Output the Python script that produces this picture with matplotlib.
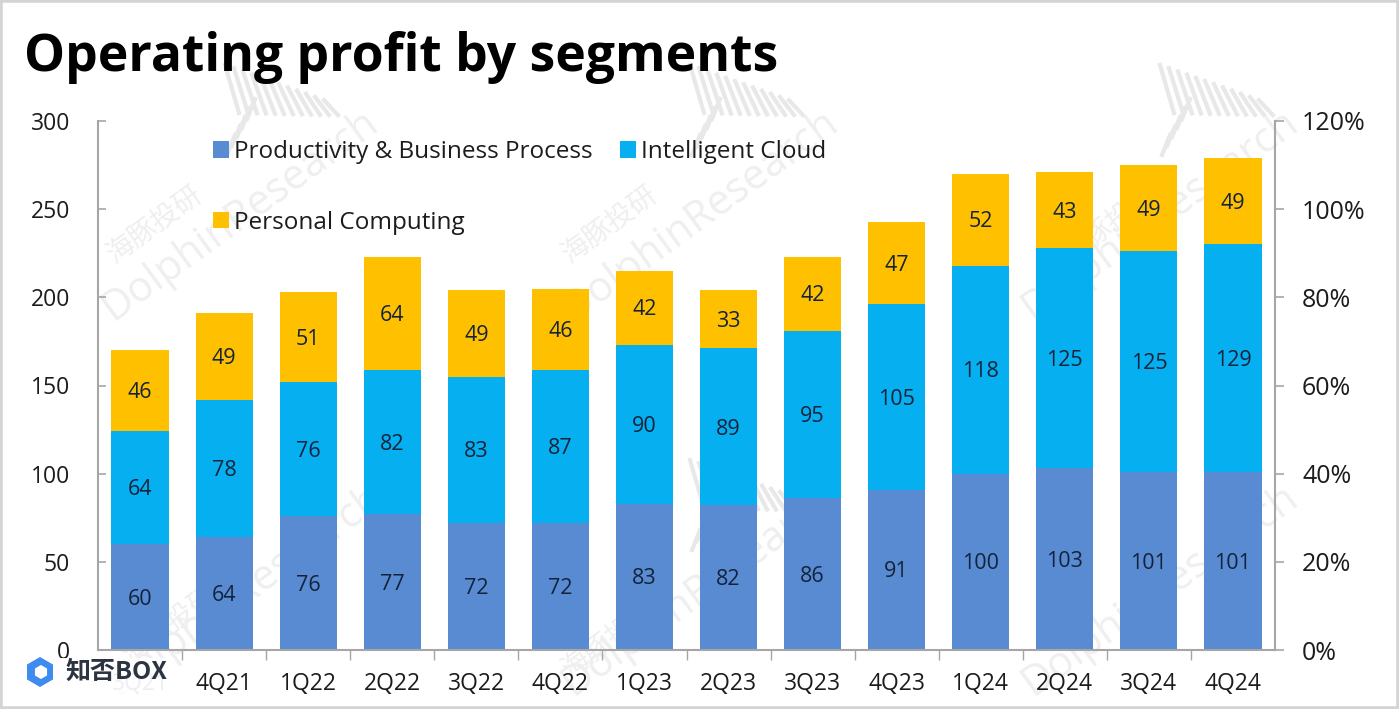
import numpy as np
import matplotlib
matplotlib.use('Agg')
import matplotlib.pyplot as plt
from matplotlib.lines import Line2D
from matplotlib.patches import Rectangle, RegularPolygon
from matplotlib.ticker import PercentFormatter
from matplotlib.transforms import IdentityTransform

quarters = ['3Q21', '4Q21', '1Q22', '2Q22', '3Q22', '4Q22', '1Q23', '2Q23',
            '3Q23', '4Q23', '1Q24', '2Q24', '3Q24', '4Q24']
productivity = [60, 64, 76, 77, 72, 72, 83, 82, 86, 91, 100, 103, 101, 101]
cloud = [64, 78, 76, 82, 83, 87, 90, 89, 95, 105, 118, 125, 125, 129]
personal = [46, 49, 51, 64, 49, 46, 42, 33, 42, 47, 52, 43, 49, 49]

W, H = 1399, 709
plt.rcParams['font.family'] = ['Open Sans', 'Noto Sans CJK SC', 'DejaVu Sans']
TXT = '#1c1c1c'
AXC = '#a6a6a6'
MARK = '#efefef'


def px(x, y):
    # pixel position (from top left) to figure fraction
    return x / W, 1 - y / H


fig = plt.figure(figsize=(W / 100, H / 100), dpi=100, facecolor='white')
left, top = px(98, 121)
right, bottom = px(1275, 650)
ax = fig.add_axes([left, bottom, right - left, top - bottom])
ax.patch.set_alpha(0)

ind = np.arange(len(quarters))
width = 0.68
p1 = ax.bar(ind, productivity, width, color='#588bd2')
p2 = ax.bar(ind, cloud, width, bottom=productivity, color='#05aff0')
bottom2 = np.array(productivity) + np.array(cloud)
p3 = ax.bar(ind, personal, width, bottom=bottom2, color='#ffc000')
for p in (p1, p2, p3):
    for ann in ax.bar_label(p, label_type='center', fontsize=15.5, color='#14233a'):
        ann.xyann = (0, -1.5)

ax.set_xlim(-0.5, len(quarters) - 0.5)
ax.set_ylim(0, 300)
ax.set_yticks(np.arange(0, 301, 50))
ax.tick_params(axis='y', direction='in', length=6, width=1.2, color=AXC,
               labelsize=16.5, labelcolor=TXT, pad=20)
ax.set_xticks(ind)
ax.set_xticklabels(quarters)
ax.tick_params(axis='x', length=0, labelsize=16.5, labelcolor=TXT, pad=16)
ax.set_xticks(ind[:-1] + 0.5, minor=True)
ax.tick_params(axis='x', which='minor', length=7, width=1, color=AXC)
ax.spines['top'].set_visible(False)
ax.spines['right'].set_visible(False)
for s in ('left', 'bottom'):
    ax.spines[s].set_color(AXC)
    ax.spines[s].set_linewidth(1.5)

ax2 = ax.twinx()
ax2.set_ylim(0, 120)
ax2.set_yticks(np.arange(0, 121, 20))
ax2.yaxis.set_major_formatter(PercentFormatter(decimals=0))
ax2.tick_params(axis='y', direction='out', length=6.5, width=1.2, color=AXC,
                labelsize=18, labelcolor=TXT, pad=13)
ax2.spines['top'].set_visible(False)
ax2.spines['left'].set_visible(False)
ax2.spines['bottom'].set_visible(False)
ax2.spines['right'].set_color(AXC)
ax2.spines['right'].set_linewidth(1.5)

ax.legend((p1[0], p3[0], p2[0]),
          ('Productivity & Business Process', 'Personal Computing', 'Intelligent Cloud'),
          ncol=2, frameon=False, fontsize=17.5, labelcolor=TXT,
          handlelength=0.65, handleheight=0.65, handletextpad=0.2,
          labelspacing=1.93, columnspacing=1.15, borderpad=0, borderaxespad=0,
          loc='upper left', bbox_to_anchor=px(213, 140), bbox_transform=fig.transFigure)

fig.text(*px(24, 58), 'Operating profit by segments', fontsize=37.2, fontweight='bold',
         color='black', va='center', ha='left')

# watermarks behind the bars
for x, y in [(240, 215), (700, 215), (1160, 215), (245, 590), (700, 590), (1160, 590)]:
    fig.text(*px(x, y), 'DolphinResearch', fontsize=30, color=MARK, rotation=36,
             ha='center', va='center', zorder=-1)
for x, y in [(155, 225), (610, 225), (1110, 225), (170, 625), (610, 640)]:
    fig.text(*px(x, y), '海豚投研', fontsize=20, color=MARK, rotation=36,
             ha='center', va='center', zorder=-1)

# fan of strokes in each watermark
for x0, y0 in [(225, 65), (690, 65), (1160, 65), (690, 460)]:
    for i in range(12):
        xa = x0 + 9 * i
        ya = y0 + 3.2 * i
        fig.add_artist(Line2D([xa / W, (xa + 14) / W], [1 - ya / H, 1 - (ya + 48 - 3 * i) / H],
                              color='#e8e8e8', linewidth=3, zorder=-1))
    for i in range(5):
        xa = x0 + 2 + 5 * i
        ya = y0 + 90 - 9 * i
        fig.add_artist(Line2D([xa / W, (xa + 8) / W], [1 - ya / H, 1 - (ya - 20) / H],
                              color='#e8e8e8', linewidth=3, zorder=-1))

# corner logo over the 3Q21 label
fig.add_artist(Rectangle(px(22, 702), 153 / W, 44 / H, transform=fig.transFigure,
                         facecolor='white', alpha=0.93, edgecolor='none', zorder=5))
fig.add_artist(RegularPolygon((40, H - 672), 6, radius=15, transform=IdentityTransform(),
                              facecolor='#3f8bf0', edgecolor='none', zorder=6))
fig.add_artist(RegularPolygon((41, H - 672), 6, radius=7, transform=IdentityTransform(),
                              facecolor='white', edgecolor='none', zorder=7))
fig.text(*px(66, 672), '知否BOX', fontsize=18, fontweight='bold', color='#2b3440',
         ha='left', va='center', family=['Noto Sans CJK SC'], zorder=6)

# screenshot border
fig.add_artist(Rectangle((0, 0), 1, 1, transform=fig.transFigure, facecolor='none',
                         edgecolor='#d4d4d4', linewidth=4, zorder=8))

fig.savefig('out.png', dpi=100)
